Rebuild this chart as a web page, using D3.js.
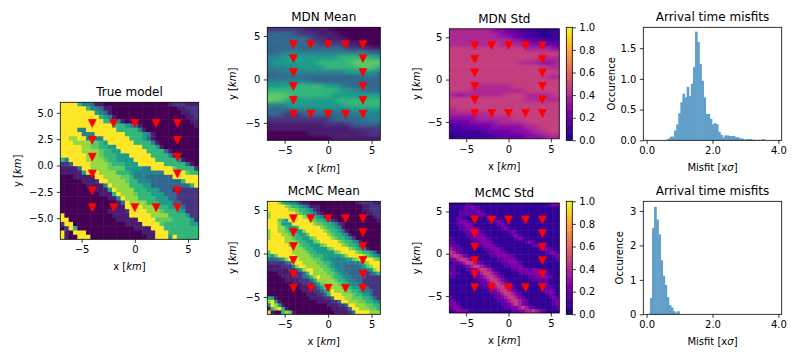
<!DOCTYPE html>
<meta charset="utf-8">
<style>
body { margin: 0; background: #fff; }
text { font-family: "DejaVu Sans", sans-serif; fill: #000; }
.tick text { font-size: 10px; }
.tick line, .domain { stroke: #000; stroke-width: 0.8px; }
.frame { fill: none; stroke: #000; stroke-width: 0.8px; }
.title { font-size: 12px; text-anchor: middle; }
.label { font-size: 10px; text-anchor: middle; }
</style>
<body>
<script src="https://d3js.org/d3.v7.min.js"></script>
<script>

// model grids, top row first, one digit per cell (see the colour functions below)
var trueModel = [
  "99996443 11000000 00000000 01222111",
  "99999964 43110000 00000000 00011222",
  "99999999 54310000 00000000 00001122",
  "99999999 96541000 00000000 00000112",
  "99999999 99666410 00000000 00000011",
  "99999999 99996665 43100000 00000001",
  "99994499 99999666 66410000 00000000",
  "99999444 99999996 66654100 00000000",
  "99889944 44999999 66653100 00000000",
  "99988887 76599999 96666410 00000000",
  "99999887 76655999 99966651 00000000",
  "99999888 87665599 99996666 31000000",
  "99999988 87666555 99999666 64100000",
  "64999988 88766555 59999966 66641000",
  "22399998 88876665 55999999 66666310",
  "11113998 88877775 55544999 99766662",
  "11111599 98888666 54444444 99999766",
  "00011111 99888877 64443333 33999999",
  "00000111 29988887 66444333 33336999",
  "00000011 11498888 66655333 33333369",
  "00000000 11159888 86665553 33222222",
  "00000000 01116988 87666555 33322222",
  "00000000 00011498 88666655 53322222",
  "00000000 00000139 88886665 55332222",
  "00000000 00001119 99988866 65553222",
  "00000000 00011112 99998887 66655222",
  "90000000 00001111 99999888 86666522",
  "99000000 00000111 11999977 77666652",
  "29900000 00000001 11199997 66666655",
  "02960000 00000000 01111999 66666666",
  "91099900 00000000 00011199 96666666",
  "91009990 00000000 00001199 95966666"
];

var mcmcMean = [
  "99986544 32110000 00000000 01222211",
  "99999876 65431110 00000000 00011222",
  "99999988 76654210 00000000 00011222",
  "89999999 87665421 00000000 00001122",
  "89999999 99876654 21000000 00000012",
  "99976599 99998766 54210000 00000001",
  "99985559 99999877 66542100 00000000",
  "99988655 69999998 76654100 00000000",
  "89988765 55899999 87665310 00000000",
  "89998876 65579999 98766541 00000000",
  "89999887 66557899 99876654 20000000",
  "99999888 76655789 99998766 54100000",
  "99999988 87665557 89999876 65310000",
  "99999998 88766555 57899998 76541000",
  "79999998 88876655 55578999 98766531",
  "65799999 88887666 55555689 99987654",
  "33345899 98888776 55444455 78999987",
  "22222349 99888877 66544444 44578999",
  "11112224 89988887 76544433 33457899",
  "11111122 35899888 77654433 33334589",
  "00011112 22369888 87765443 33332346",
  "00001111 22346898 88766544 33332222",
  "00000111 12223588 88876654 43322222",
  "00000001 11222357 88887665 44322222",
  "00000000 01112235 78888766 55433222",
  "00000000 00111223 57988877 66544322",
  "00000000 00011122 36999888 76655322",
  "65100000 00001111 22399988 77766532",
  "89510000 00000011 11223998 88776654",
  "49851000 00000000 01112239 98887766",
  "16896100 00000000 00111123 99888776",
  "91006871 00000000 00011112 39999888"
];

var mdnMean = [
  "2222211110000000",
  "3333222111000000",
  "3333332211100000",
  "3333333222211000",
  "3333333333322211",
  "3344444444444433",
  "4455555555666665",
  "4555555666667777",
  "4444555566666776",
  "3344444444455554",
  "3333333333333343",
  "4444443333333333",
  "5555666655433333",
  "6666666666554433",
  "7776666665555555",
  "7765555555666666",
  "4445555555566666",
  "3333444444445555",
  "3322233333334444",
  "2222222223333344",
  "1111111122223333",
  "1111111111112222",
  "0000001111111122",
  "0000000001111111"
];

var mdnStd = [
  "4444443322111001",
  "4444444332211001",
  "4444444443322111",
  "4444445444433222",
  "5555555555544443",
  "5555555555555555",
  "5555555555555444",
  "5555555555444334",
  "5555555555555544",
  "5555555555555555",
  "5555555555555544",
  "5555555555555555",
  "5555444445555555",
  "5554444444455555",
  "4344444455544445",
  "5555555555544444",
  "5555555555555555",
  "4555555555555555",
  "4444445555555555",
  "3333444445555555",
  "2223333444455555",
  "1122223333344555",
  "1111122223334455",
  "0111111222233344"
];

var mcmcStd = [
  "11111221 11111111 11111111 11111233",
  "11112232 21111111 11111111 11111111",
  "11122222 32111111 11111111 11111111",
  "11122222 23211111 11111111 11111111",
  "11221111 11123211 11111111 11111111",
  "11233211 11111232 11111111 11111111",
  "11223331 11111123 21111111 11111111",
  "11122333 21111112 32111111 11111111",
  "11112233 32111111 12321111 11111111",
  "11111223 33211111 11232111 11111111",
  "21111122 33321111 11123211 11111111",
  "22111112 23332111 11111123 21111111",
  "32211111 22333211 11111111 23211111",
  "43221111 11223332 11111111 11233211",
  "54321111 11122333 21111111 11112332",
  "45543211 11112233 33211111 11111123",
  "23455432 11111122 33321111 11111112",
  "12234554 32111112 23332111 11111111",
  "22112345 54321111 22333211 11111111",
  "22111223 45543111 11223332 33211111",
  "32211122 34554321 11112233 33322111",
  "22111112 23455432 11111112 23333211",
  "11111111 22345543 21111111 22222111",
  "11111111 12234554 32111111 11222111",
  "11111111 11223455 43211111 11122211",
  "11111111 11122345 54321111 11123321",
  "11111111 11112234 55432111 11112321",
  "21111111 11111223 45543211 11111232",
  "32111111 11111122 34554321 11111123",
  "33211111 11111112 23454321 11111123",
  "23321111 11111111 22334543 21111112",
  "12333211 11111111 11223344 54321111"
];

// what each digit means on the 0-1 colour maps
var viridisLevels = [0, 0.08, 0.15, 0.33, 0.44, 0.55, 0.66, 0.75, 0.84, 1];
var mdnStdLevels = [0.03, 0.1, 0.19, 0.28, 0.39, 0.47];
var mcmcStdLevels = [0.03, 0.07, 0.17, 0.26, 0.36, 0.46];

// station positions in km
var stationX = [-4, -2, 0, 2, 4, -4, -2, 0, 2, 4, -4, 4, -4, 4, -4, 4, -4, 4];
var stationY = [4, 4, 4, 4, 4, -4, -4, -4, -4, -4, 2.4, 2.4, 0.8, 0.8, -0.8, -0.8, -2.4, -2.4];

// histograms, first bin edge and bin heights
var misfitTopStart = 0.58;
var misfitTop = [0.01, 0.03, 0.06, 0.06, 0.16, 0.26, 0.44, 0.62, 0.76, 0.70, 0.87, 0.72, 0.92, 1.19, 1.77, 1.60,
  1.24, 0.97, 0.70, 0.43, 0.43, 0.35, 0.26, 0.28, 0.26, 0.14, 0.09, 0.05, 0.08, 0.08, 0.07, 0.07, 0.07, 0.05,
  0.05, 0.03, 0.03, 0.01, 0.02, 0.02, 0.02, 0.01, 0.01, 0, 0.01, 0, 0.02];
var misfitBottomStart = 0.10;
var misfitBottom = [0.47, 2.5, 3.12, 2.75, 2.32, 1.57, 1.12, 0.85, 0.5, 0.27, 0.2, 0.09, 0.05, 0.09];
var binWidth = 0.0635;

var cbarTicks = [0, 0.2, 0.4, 0.6, 0.8, 1];

var svg = d3.select("body").append("svg")
    .attr("width", 792)
    .attr("height", 360);

var defs = svg.append("defs");
defs.append("filter").attr("id", "smooth")
    .attr("x", "-5%").attr("y", "-5%").attr("width", "110%").attr("height", "110%")
    .append("feGaussianBlur").attr("stdDeviation", "3.5 1.8");
defs.append("filter").attr("id", "soft")
    .attr("x", "-5%").attr("y", "-5%").attr("width", "110%").attr("height", "110%")
    .append("feGaussianBlur").attr("stdDeviation", 0.55);

var clipCount = 0;

// down pointing triangle like the matplotlib 'v' marker
var triangleDown = {
  draw: function(ctx, size) {
    var s = Math.sqrt(size) / 2;
    ctx.moveTo(-s, -s);
    ctx.lineTo(s, -s);
    ctx.lineTo(0, s);
    ctx.closePath();
  }
};

function kmLabel(sel, letter) {
  sel.html(letter + ' [<tspan font-style="italic">km</tspan>]');
}

function heatPanel(o) {
  var w = o.right - o.left, h = o.bottom - o.top;
  var g = svg.append("g").attr("transform", "translate(" + o.left + "," + o.top + ")");
  var rows = o.grid.map(function(r) { return r.replace(/ /g, "").split("").map(Number); });
  var nCol = rows[0].length, nRow = rows.length;

  var x = d3.scaleLinear().domain([-7, 6]).range([0, w]);
  var y = d3.scaleLinear().domain([-7, 6]).range([h, 0]);
  var cx = d3.scaleBand().domain(d3.range(nCol)).range([0, w]);
  var cy = d3.scaleBand().domain(d3.range(nRow)).range([0, h]);

  var id = "clip" + (clipCount++);
  defs.append("clipPath").attr("id", id).append("rect").attr("width", w).attr("height", h);

  var cellsHolder = g.append("g").attr("clip-path", "url(#" + id + ")").append("g")
      .attr("filter", o.smooth ? "url(#smooth)" : "url(#soft)");

  // outer cells run past the frame so the blur doesn't fade at the edges
  var pad = 12;
  rows.forEach(function(row, r) {
    cellsHolder.selectAll(null)
        .data(row)
        .enter().append("rect")
        .attr("x", function(d, c) { return cx(c) - 0.25 - (c === 0 ? pad : 0); })
        .attr("y", cy(r) - 0.25 - (r === 0 ? pad : 0))
        .attr("width", function(d, c) { return cx.bandwidth() + 0.5 + (c === 0 || c === nCol - 1 ? pad : 0); })
        .attr("height", cy.bandwidth() + 0.5 + (r === 0 || r === nRow - 1 ? pad : 0))
        .attr("fill", function(d) { return o.color(d); });
  });

  g.selectAll(".station")
      .data(stationX)
      .enter().append("path")
      .attr("class", "station")
      .attr("d", d3.symbol().type(triangleDown).size(60))
      .attr("transform", function(d, i) { return "translate(" + x(d) + "," + y(stationY[i]) + ")"; })
      .attr("fill", "#f00")
      .attr("stroke", "#f00")
      .attr("stroke-width", 0.8);

  var xAxis = g.append("g").attr("transform", "translate(0," + h + ")")
      .call(d3.axisBottom(x).tickValues([-5, 0, 5]).tickSizeOuter(0).tickSize(3.5).tickPadding(3.5));
  var yAxis = g.append("g")
      .call(d3.axisLeft(y).tickValues(o.yTicks).tickFormat(d3.format(o.yFormat)).tickSizeOuter(0).tickSize(3.5).tickPadding(3.5));
  xAxis.select(".domain").remove();
  yAxis.select(".domain").remove();

  g.append("rect").attr("class", "frame").attr("width", w).attr("height", h);

  g.append("text").attr("class", "title").attr("x", w / 2).attr("y", -6).text(o.title);
  g.append("text").attr("class", "label").attr("x", w / 2).attr("y", o.xLabelY - o.top).call(kmLabel, "x");
  g.append("text").attr("class", "label")
      .attr("transform", "translate(" + (o.yLabelX - o.left) + "," + (h / 2) + ") rotate(-90)")
      .call(kmLabel, "y");
}

function colorbar(left, top, bottom) {
  var w = 6, h = bottom - top;
  var g = svg.append("g").attr("transform", "translate(" + left + "," + top + ")");
  var y = d3.scaleLinear().domain([0, 1]).range([h, 0]);
  g.selectAll("rect.step")
      .data(d3.range(0, 1, 1 / 128))
      .enter().append("rect")
      .attr("class", "step")
      .attr("x", 0)
      .attr("width", w)
      .attr("y", function(d) { return y(d + 1 / 128) - 0.3; })
      .attr("height", h / 128 + 0.6)
      .attr("fill", function(d) { return d3.interpolatePlasma(d); });
  var axis = g.append("g").attr("transform", "translate(" + w + ",0)")
      .call(d3.axisRight(y).tickValues(cbarTicks).tickFormat(d3.format(".1f")).tickSizeOuter(0).tickSize(3.5).tickPadding(3.5));
  axis.select(".domain").remove();
  g.append("rect").attr("class", "frame").attr("width", w).attr("height", h);
}

function histPanel(o) {
  var w = o.right - o.left, h = o.bottom - o.top;
  var g = svg.append("g").attr("transform", "translate(" + o.left + "," + o.top + ")");
  var x = d3.scaleLinear().domain([-0.1, 4.1]).range([0, w]);
  var y = d3.scaleLinear().domain([0, o.yMax]).range([h, 0]);

  g.selectAll("rect.bar")
      .data(o.values)
      .enter().append("rect")
      .attr("class", "bar")
      .attr("x", function(d, i) { return x(o.start + i * binWidth); })
      .attr("width", x(binWidth) - x(0) + 0.6)
      .attr("y", function(d) { return y(d); })
      .attr("height", function(d) { return h - y(d); })
      .attr("fill", "#62a0ca");

  var xAxis = g.append("g").attr("transform", "translate(0," + h + ")")
      .call(d3.axisBottom(x).tickValues([0, 2, 4]).tickSizeOuter(0).tickSize(3.5).tickPadding(3.5));
  var yAxis = g.append("g")
      .call(d3.axisLeft(y).tickValues(o.yTicks).tickFormat(d3.format(o.yFormat)).tickSizeOuter(0).tickSize(3.5).tickPadding(3.5));
  xAxis.select(".domain").remove();
  yAxis.select(".domain").remove();

  g.append("rect").attr("class", "frame").attr("width", w).attr("height", h);

  g.append("text").attr("class", "title").attr("x", w / 2).attr("y", -6).text("Arrival time misfits");
  g.append("text").attr("class", "label").attr("x", w / 2).attr("y", o.xLabelY - o.top)
      .html('Misfit [x<tspan font-style="italic">σ</tspan>]');
  g.append("text").attr("class", "label")
      .attr("transform", "translate(" + (o.yLabelX - o.left) + "," + (h / 2) + ") rotate(-90)")
      .text("Occurence");
}

function viridisColor(d) { return d3.interpolateViridis(viridisLevels[d]); }
function mdnStdColor(d) { return d3.interpolatePlasma(mdnStdLevels[d]); }
function mcmcStdColor(d) { return d3.interpolatePlasma(mcmcStdLevels[d]); }

heatPanel({grid: trueModel, color: viridisColor, title: "True model", left: 60.3, right: 198.7, top: 102.3, bottom: 239.3,
  yTicks: [-5, -2.5, 0, 2.5, 5], yFormat: ".1f", xLabelY: 270, yLabelX: 21});
heatPanel({grid: mdnMean, color: viridisColor, smooth: true, title: "MDN Mean", left: 267.3, right: 380.3, top: 27.3, bottom: 140.3,
  yTicks: [-5, 0, 5], yFormat: "d", xLabelY: 172, yLabelX: 236.5});
heatPanel({grid: mcmcMean, color: viridisColor, title: "McMC Mean", left: 267.3, right: 380.3, top: 201.3, bottom: 314.3,
  yTicks: [-5, 0, 5], yFormat: "d", xLabelY: 345, yLabelX: 236.5});
heatPanel({grid: mdnStd, color: mdnStdColor, smooth: true, title: "MDN Std", left: 449.3, right: 559.3, top: 28.8, bottom: 138.8,
  yTicks: [-5, 0, 5], yFormat: "d", xLabelY: 170, yLabelX: 420});
heatPanel({grid: mcmcStd, color: mcmcStdColor, title: "McMC Std", left: 449.3, right: 559.3, top: 203, bottom: 313,
  yTicks: [-5, 0, 5], yFormat: "d", xLabelY: 344, yLabelX: 420});

colorbar(566.3, 27.3, 140.3);
colorbar(566.3, 201.3, 314.3);

histPanel({values: misfitTop, start: misfitTopStart, yMax: 1.84, yTicks: [0, 0.5, 1, 1.5], yFormat: ".1f",
  left: 643.3, right: 781.7, top: 27.3, bottom: 140.3, xLabelY: 171, yLabelX: 614.5});
histPanel({values: misfitBottom, start: misfitBottomStart, yMax: 3.28, yTicks: [0, 1, 2, 3], yFormat: "d",
  left: 643.3, right: 781.7, top: 201.3, bottom: 314.3, xLabelY: 345, yLabelX: 622.5});

</script>
</body>
